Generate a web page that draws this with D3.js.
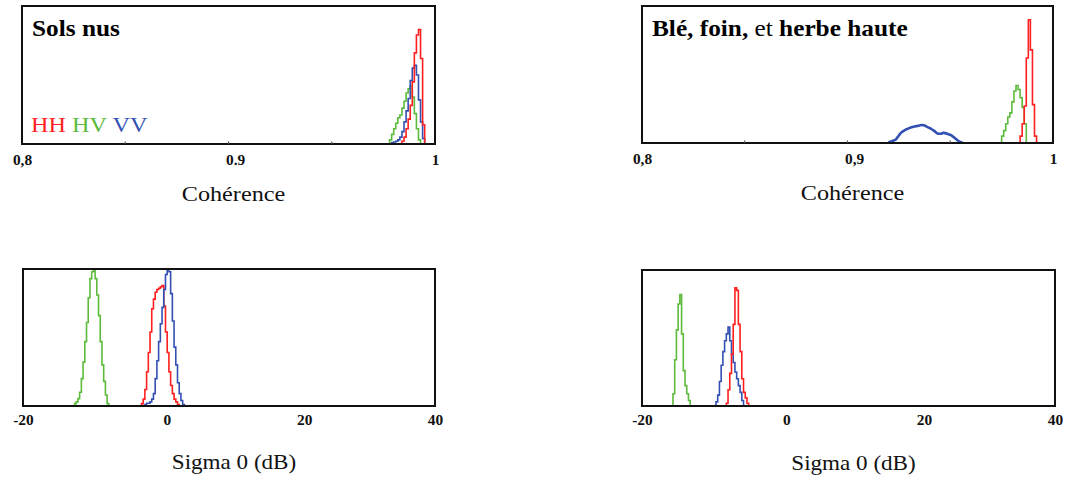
<!DOCTYPE html>
<html><head><meta charset="utf-8">
<script src="https://cdn.jsdelivr.net/npm/d3@7"></script>
<style>body{margin:0;background:#fff}svg{display:block}
text{font-family:"Liberation Serif","Times New Roman",Times,"DejaVu Serif",serif;}</style>
</head><body>
<svg id="c" width="1069" height="479"></svg>
<script>
// ---------- DATA ----------
const seriesNames = ["HH", "HV", "VV"];
const coherenceTicks = [0.8, 0.9, 1.0];
const coherenceLabelsSols = ["0,8", "0.9", "1"];
const coherenceLabelsBle = ["0,8", "0,9", "1"];
const coherenceMinorTicks = [0.85, 0.9, 0.95];
const sigmaTicks = [-20, 0, 20, 40];
const sigmaLabels = ["-20", "0", "20", "40"];
const cohBinWidth = 0.001;
const sigmaBinWidth = 0.25;

// Sols nus - coherence histograms (bin start, relative frequency)
const solsCohHHStart = 0.984;
const solsCohHH = [0.02, 0.05, 0.11, 0.18, 0.28, 0.45, 0.66, 0.79, 0.83, 0.62, 0.14];
const solsCohHVStart = 0.978;
const solsCohHV = [0.03, 0.07, 0.11, 0.15, 0.19, 0.21, 0.26, 0.31, 0.37, 0.40, 0.42, 0.34, 0.22, 0.11, 0.03];
const solsCohVVStart = 0.979;
const solsCohVV = [0.01, 0.015, 0.02, 0.03, 0.05, 0.09, 0.16, 0.24, 0.33, 0.46, 0.55, 0.57, 0.50, 0.32, 0.16, 0.04];

// Blé, foin, et herbe haute - coherence
const bleCohHHStart = 0.984;
const bleCohHH = [0.05, 0.14, 0.27, 0.62, 0.90, 0.68, 0.28, 0.05];
const bleCohHVStart = 0.975;
const bleCohHV = [0.05, 0.09, 0.14, 0.19, 0.22, 0.30, 0.38, 0.42, 0.39, 0.33, 0.26, 0.14];
const bleCohVVStart = 0.920;
const bleCohVV = [0.008, 0.012, 0.018, 0.025, 0.045, 0.065, 0.08, 0.09, 0.10, 0.105, 0.112, 0.116,
  0.12, 0.123, 0.126, 0.13, 0.131, 0.128, 0.12, 0.112, 0.105, 0.095, 0.085, 0.072, 0.067, 0.068,
  0.074, 0.072, 0.068, 0.062, 0.056, 0.045, 0.032, 0.02, 0.01, 0.004];

// Sols nus - Sigma 0 (dB)
const solsSigHHStart = -2.75;
const solsSigHH = [0.017, 0.05, 0.12, 0.25, 0.39, 0.54, 0.71, 0.78, 0.83, 0.85, 0.86, 0.87, 0.88,
  0.73, 0.54, 0.39, 0.25, 0.15, 0.09, 0.05, 0.03, 0.01];
const solsSigHVStart = -12.5;
const solsSigHV = [0.017, 0.03, 0.054, 0.10, 0.20, 0.32, 0.47, 0.61, 0.79, 0.93, 0.98, 0.99, 0.93,
  0.81, 0.66, 0.47, 0.30, 0.18, 0.08, 0.017];
const solsSigVVStart = -2.25;
const solsSigVV = [0.01, 0.02, 0.02, 0.03, 0.05, 0.09, 0.20, 0.33, 0.47, 0.60, 0.72, 0.85, 0.96, 1.0,
  0.98, 0.82, 0.62, 0.43, 0.30, 0.17, 0.09, 0.04, 0.01];

// Blé, foin, et herbe haute - Sigma 0 (dB)
const bleSigHHStart = -7.75;
const bleSigHH = [0.02, 0.12, 0.24, 0.38, 0.60, 0.87, 0.85, 0.60, 0.40, 0.20, 0.10, 0.06, 0.02];
const bleSigHVStart = -15.5;
const bleSigHV = [0.09, 0.34, 0.56, 0.75, 0.82, 0.53, 0.26, 0.15, 0.09, 0.04];
const bleSigVVStart = -9.25;
const bleSigVV = [0.03, 0.08, 0.18, 0.30, 0.40, 0.48, 0.53, 0.58, 0.48, 0.38, 0.32, 0.25, 0.20, 0.15, 0.10, 0.04];

// ---------- DRAWING ----------
const colors = { HH: "#ff1f1f", HV: "#5dbb3c", VV: "#3250b2" };
const svg = d3.select("#c");

const panels = [
  { box: [22, 435, 6, 144], domain: [0.8, 1.0], ticks: coherenceTicks, labels: coherenceLabelsSols,
    minor: coherenceMinorTicks, bw: cohBinWidth, axisTitle: "Cohérence", axisTitleSize: 22, titleDy: 57,
    tickLabelDy: 21, legend: true, title: [{ t: "Sols nus", b: true }],
    order: [["HV", solsCohHVStart, solsCohHV], ["VV", solsCohVVStart, solsCohVV], ["HH", solsCohHHStart, solsCohHH]] },
  { box: [642, 1053, 6, 143], domain: [0.8, 1.0], ticks: coherenceTicks, labels: coherenceLabelsBle,
    minor: coherenceMinorTicks, bw: cohBinWidth, axisTitle: "Cohérence", axisTitleSize: 22, titleDy: 57,
    tickLabelDy: 21, legend: false,
    title: [{ t: "Blé, ", b: true }, { t: "foin, ", b: true }, { t: "et ", b: false }, { t: "herbe haute", b: true }],
    order: [["VV", bleCohVVStart, bleCohVV], ["HV", bleCohHVStart, bleCohHV], ["HH", bleCohHHStart, bleCohHH]] },
  { box: [23, 435, 269, 406], domain: [-20, 40], ticks: sigmaTicks, labels: sigmaLabels,
    minor: [], bw: sigmaBinWidth, axisTitle: "Sigma 0 (dB)", axisTitleSize: 21, titleDy: 63,
    tickLabelDy: 19, legend: false, title: null,
    order: [["HV", solsSigHVStart, solsSigHV], ["HH", solsSigHHStart, solsSigHH], ["VV", solsSigVVStart, solsSigVV]] },
  { box: [642, 1055, 270, 406], domain: [-20, 40], ticks: sigmaTicks, labels: sigmaLabels,
    minor: [], bw: sigmaBinWidth, axisTitle: "Sigma 0 (dB)", axisTitleSize: 21, titleDy: 64,
    tickLabelDy: 19, legend: false, title: null,
    order: [["HV", bleSigHVStart, bleSigHV], ["VV", bleSigVVStart, bleSigVV], ["HH", bleSigHHStart, bleSigHH]] }
];

panels.forEach((p, pi) => {
  const [x0, x1, y0, y1] = p.box;
  const x = d3.scaleLinear().domain(p.domain).range([x0, x1]);
  const y = d3.scaleLinear().domain([0, 1]).range([y1, y0]);
  const g = svg.append("g");

  // histograms
  const line = d3.line().x(d => x(d[0])).y(d => y(d[1]));
  const smooth = d3.line().x(d => x(d[0])).y(d => y(d[1])).curve(d3.curveMonotoneX);
  p.order.forEach(([name, start, vals]) => {
    const thick = (pi === 1 && name === "VV");
    if (thick) {
      const pts = [[start, 0]];
      vals.forEach((v, i) => pts.push([start + (i + 0.5) * p.bw, v]));
      pts.push([start + vals.length * p.bw, 0]);
      g.append("path").attr("d", smooth(pts)).attr("fill", "none")
        .attr("stroke", colors[name]).attr("stroke-width", 2.6).attr("stroke-linejoin", "round");
      return;
    }
    const pts = [[start, 0]];
    vals.forEach((v, i) => { pts.push([start + i * p.bw, v], [start + (i + 1) * p.bw, v]); });
    pts.push([start + vals.length * p.bw, 0]);
    g.append("path").attr("d", line(pts)).attr("fill", "none")
      .attr("stroke", colors[name]).attr("stroke-width", 1.6).attr("stroke-linejoin", "miter");
  });

  // box
  g.append("rect").attr("x", x0).attr("y", y0).attr("width", x1 - x0).attr("height", y1 - y0)
    .attr("fill", "none").attr("stroke", "#111").attr("stroke-width", 2);

  // minor ticks
  p.minor.forEach(v => {
    g.append("line").attr("x1", x(v)).attr("x2", x(v)).attr("y1", y1).attr("y2", y1 - 2.5)
      .attr("stroke", "#555").attr("stroke-width", 1.2);
  });

  // axis labels
  const ax = g.append("g").attr("transform", `translate(0,${y1})`)
    .call(d3.axisBottom(x).tickValues(p.ticks).tickFormat((d, i) => p.labels[i]).tickSize(0));
  ax.select(".domain").remove();
  ax.attr("font-family", null).attr("font-size", null);
  ax.selectAll("text")
    .attr("y", p.tickLabelDy).attr("dy", 0)
    .attr("dx", (d, i) => (i > 0 && i < p.ticks.length - 1) ? 6 : 0)
    .style("font-weight", "bold").style("font-size", "14px")
    .attr("fill", "#111").attr("transform", "scale(1.1,1)");

  // axis title
  g.append("text")
    .attr("transform", `translate(${(x0 + x1) / 2 + 5},${y1 + p.titleDy}) scale(1.1,1)`)
    .attr("text-anchor", "middle").style("font-size", p.axisTitleSize + "px")
    .attr("fill", "#111").text(p.axisTitle);

  // panel title
  if (p.title) {
    const t = g.append("text").attr("transform", `translate(${x0 + 10},${y0 + 30}) scale(1.1,1)`)
      .style("font-size", "23px").attr("fill", "#000");
    p.title.forEach(s => t.append("tspan").style("font-weight", s.b ? "bold" : "normal").text(s.t));
  }

  // legend
  if (p.legend) {
    const t = g.append("text").attr("transform", `translate(${x0 + 9},${y0 + 126}) scale(1.1,1)`)
      .style("font-size", "22px");
    seriesNames.forEach((n, i) => {
      t.append("tspan").attr("fill", colors[n]).text(n + (i < seriesNames.length - 1 ? " " : ""));
    });
  }
});
</script>
</body></html>
